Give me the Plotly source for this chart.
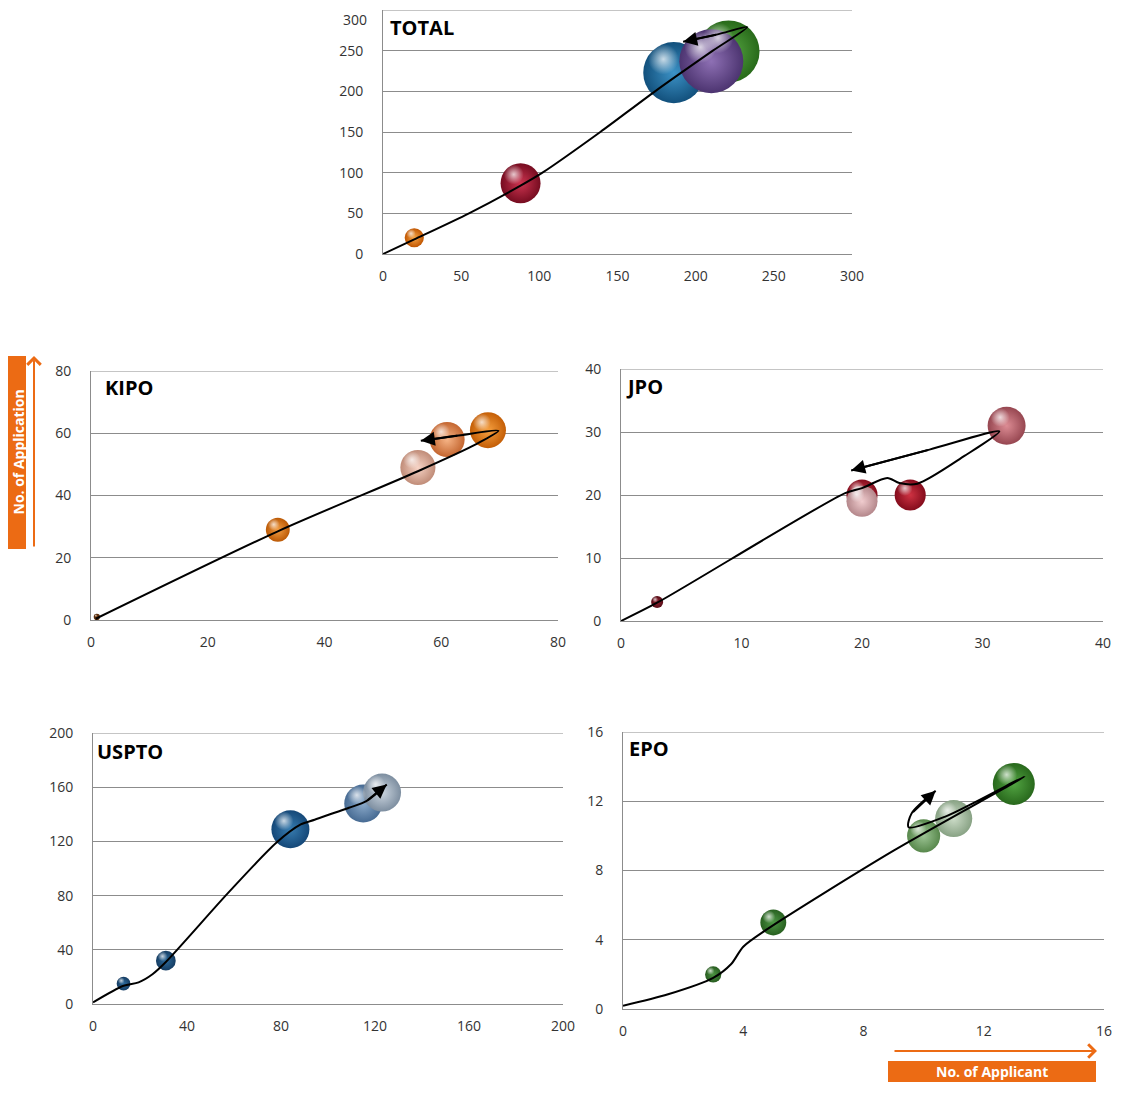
import math
import plotly.graph_objects as go

# ---------------- data ----------------
# TOTAL
TOTAL_APPLICANTS = [20, 88, 186, 221, 210]
TOTAL_APPLICATIONS = [20, 87, 223, 249, 237]
TOTAL_BUBBLE = [9, 39, 91, 94, 100]
TOTAL_TREND_X = [0, 20, 55, 88, 102, 139, 174, 211, 233, 214, 192]
TOTAL_TREND_Y = [0, 18, 50, 84, 100, 150, 200, 250, 279, 270, 261]

# KIPO
KIPO_APPLICANTS = [1, 32, 56, 61, 68]
KIPO_APPLICATIONS = [1, 29, 49, 58, 61]
KIPO_BUBBLE = [3, 44, 95, 95, 100]
KIPO_TREND_X = [0.8, 32, 56, 66, 69.8, 63, 56.5]
KIPO_TREND_Y = [0.4, 28.5, 47.8, 56.5, 60.8, 59.3, 57.6]

# JPO
JPO_APPLICANTS = [3, 20, 20, 24, 32]
JPO_APPLICATIONS = [3, 20, 19, 20, 31]
JPO_BUBBLE = [10, 67, 67, 67, 100]
JPO_TREND_X = [0, 3, 18.6, 20.0, 22.1, 23.1, 24.6, 28.5, 31.4, 25.6, 19.1]
JPO_TREND_Y = [0, 2.9, 20.3, 21.1, 22.7, 21.9, 21.8, 26.2, 30.1, 27.2, 23.9]

# USPTO
USPTO_APPLICANTS = [13, 31, 84, 115, 123]
USPTO_APPLICATIONS = [15, 32, 129, 148, 156]
USPTO_BUBBLE = [13, 27, 100, 100, 100]
USPTO_TREND_X = [0, 13, 19.4, 25.3, 31.1, 57.6, 78, 88.4, 94.3, 108.9, 116.3, 125]
USPTO_TREND_Y = [1.2, 13.5, 16, 22, 31.2, 82.2, 119, 132.5, 136, 144.8, 149.7, 162]

# EPO
EPO_APPLICANTS = [3, 5, 10, 11, 13]
EPO_APPLICATIONS = [2, 5, 10, 11, 13]
EPO_BUBBLE = [15, 38, 62, 78, 100]
EPO_TREND_X = [0, 1.5, 3.0, 3.6, 4.0, 4.76, 9.0, 13.36, 10.7, 9.5, 9.6, 10.4]
EPO_TREND_Y = [0.19, 0.85, 1.8, 2.6, 3.6, 4.57, 9.15, 13.43, 11.1, 10.5, 11.3, 12.6]

PANEL_NAMES = ["TOTAL", "KIPO", "JPO", "USPTO", "EPO"]
AXIS_MAX = [300, 80, 40, 200, 16]
AXIS_STEP = [50, 20, 10, 40, 4]
Y_AXIS_LABEL = "No. of Application"
X_AXIS_LABEL = "No. of Applicant"

# ---------------- styles / layout ----------------
PAGE_W, PAGE_H = 1128, 1094
BODY = 8                      # default page margin around the plot div
W, H = PAGE_W - 2 * BODY, PAGE_H - 2 * BODY


def px(xp):
    return (xp - BODY) / W


def py(yp):
    return 1 - (yp - BODY) / H


# plot-area boxes in page pixels: left, right, top, bottom
BOXES = [
    (383, 852, 10, 254),
    (91, 558, 371, 620),
    (621, 1103, 369, 621),
    (93, 563, 733, 1004),
    (623, 1104, 732, 1009),
]
TITLE_POS = [(388, 27), (103, 388), (624, 386), (95, 751), (627, 748)]
MAX_DIAM = [64, 36, 38, 38, 42]
# (edge colour, centre colour) for each bubble
COLORS = [
    [("#C05500", "#F7A748"), ("#760C20", "#CC3450"), ("#12507C", "#3C92C6"),
     ("#286A1A", "#58A844"), ("#4C3470", "#8E70B4")],
    [("#4E2406", "#8A4A18"), ("#BC5A06", "#F39E44"), ("#C08C78", "#F7D4C6"),
     ("#C46630", "#F6B486"), ("#C45E06", "#F6A040")],
    [("#560C16", "#902232"), ("#860E1E", "#D23A4A"), ("#B4878B", "#F0CCCE"),
     ("#840C1C", "#CE3242"), ("#964650", "#DC8C94")],
    [("#153C62", "#2E6C9E"), ("#153C62", "#2E6C9E"), ("#154878", "#377CB0"),
     ("#476B93", "#8CABCB"), ("#7D8EA0", "#CBD5DF")],
    [("#285C20", "#4C9442"), ("#286020", "#4E9846"), ("#58884C", "#9CC494"),
     ("#88A284", "#CCDCC8"), ("#28681C", "#52A442")],
]
ORANGE = "#EC6B14"
GRID = "#8C8C8C"
FONT = "Open Sans"
TICK_COLOR = "#333333"
Y_STANDOFF = 16

panels = [
    (TOTAL_APPLICANTS, TOTAL_APPLICATIONS, TOTAL_BUBBLE, TOTAL_TREND_X, TOTAL_TREND_Y),
    (KIPO_APPLICANTS, KIPO_APPLICATIONS, KIPO_BUBBLE, KIPO_TREND_X, KIPO_TREND_Y),
    (JPO_APPLICANTS, JPO_APPLICATIONS, JPO_BUBBLE, JPO_TREND_X, JPO_TREND_Y),
    (USPTO_APPLICANTS, USPTO_APPLICATIONS, USPTO_BUBBLE, USPTO_TREND_X, USPTO_TREND_Y),
    (EPO_APPLICANTS, EPO_APPLICATIONS, EPO_BUBBLE, EPO_TREND_X, EPO_TREND_Y),
]

fig = go.Figure()
annotations = []
shapes = []
layout_axes = {}

for i, (xs, ys, bub, tx, ty) in enumerate(panels):
    n = i + 1
    xa = "x" if n == 1 else f"x{n}"
    ya = "y" if n == 1 else f"y{n}"
    xkey = "xaxis" if n == 1 else f"xaxis{n}"
    ykey = "yaxis" if n == 1 else f"yaxis{n}"
    left, right, top, bottom = BOXES[i]
    amax, step = AXIS_MAX[i], AXIS_STEP[i]
    ticks_all = list(range(0, amax + 1, step))
    # a label on the very top edge of the page would be clipped by the div:
    # draw that one as a text annotation placed just inside the page instead
    top_clipped = top - BODY < 9
    yticks = ticks_all[:-1] if top_clipped else ticks_all

    tickfont = dict(family=FONT, size=14, color=TICK_COLOR)
    layout_axes[xkey] = dict(
        domain=[px(left), px(right)], anchor=ya, range=[0, amax],
        tickmode="array", tickvals=ticks_all,
        showgrid=False, zeroline=False, showline=True, linecolor=GRID,
        linewidth=1, ticks="", ticklabelstandoff=9, automargin=False,
        ticklabeloverflow="allow", tickfont=tickfont, fixedrange=True,
    )
    layout_axes[ykey] = dict(
        domain=[py(bottom), py(top)], anchor=xa, range=[0, amax],
        tickmode="array", tickvals=yticks,
        showgrid=True, gridcolor=GRID, gridwidth=1,
        zeroline=False, showline=True, linecolor=GRID, linewidth=1, ticks="",
        ticklabelstandoff=Y_STANDOFF, automargin=False,
        ticklabeloverflow="allow", tickfont=tickfont, fixedrange=True,
    )
    if top_clipped:
        annotations.append(dict(
            x=px(left - Y_STANDOFF + 1), y=py(BODY + 0.5), xref="paper",
            yref="paper", xanchor="right", yanchor="top", showarrow=False,
            borderpad=0, text=str(ticks_all[-1]), font=tickfont,
        ))
    # top gridline (plotly skips the grid line on the range edge)
    shapes.append(dict(type="line", xref=f"{xa} domain", yref=ya, x0=0, x1=1,
                       y0=amax, y1=amax, line=dict(color=GRID, width=1),
                       layer="below"))

    bmax = max(bub)
    sizeref = 2.0 * bmax / MAX_DIAM[i] ** 2
    diam = [MAX_DIAM[i] * math.sqrt(v / bmax) for v in bub]
    edge = [c[0] for c in COLORS[i]]
    centre = [c[1] for c in COLORS[i]]

    # spheres
    fig.add_trace(go.Scatter(
        x=xs, y=ys, xaxis=xa, yaxis=ya, mode="markers", hoverinfo="skip",
        showlegend=False, cliponaxis=False,
        marker=dict(size=bub, sizemode="area", sizeref=sizeref, color=edge,
                    opacity=1, line=dict(width=0),
                    gradient=dict(type="radial", color=centre)),
    ))
    # specular highlights, offset up-left in pixel space
    ppx = (right - left) / amax
    ppy = (bottom - top) / amax
    hx = [x - 0.17 * d / ppx for x, d in zip(xs, diam)]
    hy = [y + 0.22 * d / ppy for y, d in zip(ys, diam)]
    fig.add_trace(go.Scatter(
        x=hx, y=hy, xaxis=xa, yaxis=ya, mode="markers", hoverinfo="skip",
        showlegend=False, cliponaxis=False,
        marker=dict(size=[0.5 * d for d in diam], color="rgba(255,255,255,0)",
                    opacity=1, line=dict(width=0),
                    gradient=dict(type="radial", color="rgba(255,255,255,0.75)")),
    ))
    # trend path
    fig.add_trace(go.Scatter(
        x=tx, y=ty, xaxis=xa, yaxis=ya, mode="lines", hoverinfo="skip",
        showlegend=False, cliponaxis=False,
        line=dict(color="black", width=2, shape="spline", smoothing=0.8),
    ))
    annotations.append(dict(
        x=tx[-1], y=ty[-1], ax=tx[-2], ay=ty[-2], xref=xa, yref=ya,
        axref=xa, ayref=ya, showarrow=True, arrowhead=2, arrowsize=1.4,
        arrowwidth=2, arrowcolor="black", text="", standoff=0,
    ))
    tx0, ty0 = TITLE_POS[i]
    annotations.append(dict(
        x=px(tx0), y=py(ty0), xref="paper", yref="paper", xanchor="left",
        yanchor="middle", showarrow=False, text=f"<b>{PANEL_NAMES[i]}</b>",
        font=dict(family=FONT, size=20, color="black"),
    ))

# axis-name boxes
shapes += [
    dict(type="rect", xref="paper", yref="paper", x0=px(8), x1=px(26),
         y0=py(549), y1=py(356), fillcolor=ORANGE, line=dict(width=0)),
    dict(type="rect", xref="paper", yref="paper", x0=px(888), x1=px(1096),
         y0=py(1082), y1=py(1061), fillcolor=ORANGE, line=dict(width=0)),
]
annotations += [
    dict(x=px(17.5), y=py(452), xref="paper", yref="paper", showarrow=False,
         xanchor="center", yanchor="middle",
         text=f"<b>{Y_AXIS_LABEL}</b>", textangle=-90,
         font=dict(family=FONT, size=14, color="white")),
    dict(x=px(992), y=py(1071.5), xref="paper", yref="paper", showarrow=False,
         xanchor="center", yanchor="middle",
         text=f"<b>{X_AXIS_LABEL}</b>",
         font=dict(family=FONT, size=14, color="white")),
    dict(x=px(34), y=py(356), xref="paper", yref="paper", ax=0, ay=192,
         showarrow=True, arrowhead=4, arrowsize=1.3, arrowwidth=2,
         arrowcolor=ORANGE, text="", standoff=0),
    dict(x=px(1097), y=py(1051), xref="paper", yref="paper", ax=-204, ay=0,
         showarrow=True, arrowhead=4, arrowsize=1.3, arrowwidth=2,
         arrowcolor=ORANGE, text="", standoff=0),
]

fig.update_layout(
    width=W, height=H, margin=dict(l=0, r=0, t=0, b=0, autoexpand=False),
    paper_bgcolor="white", plot_bgcolor="white", showlegend=False,
    annotations=annotations, shapes=shapes, **layout_axes,
)

fig.write_html("out.html")
